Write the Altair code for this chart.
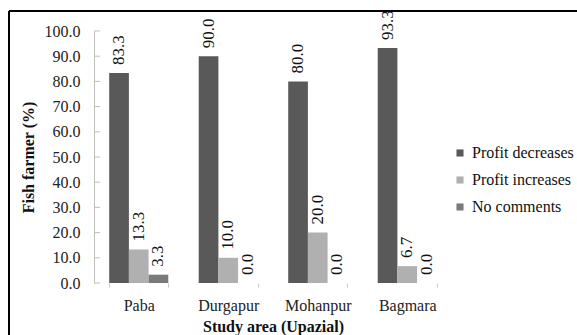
import altair as alt
import pandas as pd

areas = ["Paba", "Durgapur", "Mohanpur", "Bagmara"]
series = ["Profit decreases", "Profit increases", "No comments"]
profit_decreases = [83.3, 90.0, 80.0, 93.3]
profit_increases = [13.3, 10.0, 20.0, 6.7]
no_comments = [3.3, 0.0, 0.0, 0.0]
colors = ["#595959", "#b0b0b0", "#7a7a7a"]
y_ticks = [0, 10, 20, 30, 40, 50, 60, 70, 80, 90, 100]

rows = []
for vals, name in zip([profit_decreases, profit_increases, no_comments], series):
    for area, v in zip(areas, vals):
        rows.append({"area": area, "series": name, "value": v, "label": f"{v:.1f}"})
df = pd.DataFrame(rows)
ticks_df = pd.DataFrame({"tick": y_ticks})

FONT = "Liberation Serif"

x = alt.X("area:N", sort=areas,
          scale=alt.Scale(paddingInner=0.34, paddingOuter=0.17),
          axis=alt.Axis(title="Study area (Upazial)", labelAngle=0, domain=False,
                        tickBand="extent", tickColor="#c8c8c8", tickSize=4,
                        labelPadding=10, titlePadding=5))
xoff = alt.XOffset("series:N", sort=series)
yscale = alt.Scale(domain=[0, 100])
y_axis = alt.Axis(title="Fish farmer (%)", values=y_ticks,
                  format=".1f", grid=False, domainColor="#bfbfbf",
                  ticks=False, tickSize=0, labelPadding=14,
                  titlePadding=8, labelOverlap=False)

bars = alt.Chart(df).mark_bar().encode(
    x=x, xOffset=xoff,
    y=alt.Y("value:Q", scale=yscale, axis=y_axis),
    color=alt.Color("series:N", sort=series,
                    scale=alt.Scale(domain=series, range=colors),
                    legend=alt.Legend(title=None, orient="none", legendX=358,
                                      legendY=114, symbolType="square",
                                      symbolSize=50, rowPadding=11,
                                      labelFontSize=16, labelFont=FONT,
                                      labelColor="#111", labelOffset=4,
                                      symbolStrokeWidth=0)),
)

# inward tick marks on the value axis
yticks = alt.Chart(ticks_df).mark_rule(color="#bfbfbf").encode(
    y=alt.Y("tick:Q", scale=yscale, axis=y_axis), x=alt.value(0), x2=alt.value(6))

labels = alt.Chart(df).mark_text(angle=270, align="left", baseline="middle",
                                 dx=8, font=FONT, fontSize=17, color="#111").encode(
    x=x, xOffset=xoff,
    y=alt.Y("value:Q", scale=yscale, axis=y_axis), text="label:N")

# outer frame around the whole figure
frame_left = alt.Chart(ticks_df).mark_rule(color="black", strokeWidth=2).encode(
    x=alt.value(-85), y=alt.value(-20), y2=alt.value(400))
frame_top = alt.Chart(ticks_df).mark_rule(color="black", strokeWidth=2).encode(
    x=alt.value(-85), x2=alt.value(600), y=alt.value(-20))

chart = alt.layer(bars, yticks, labels, frame_left, frame_top).properties(
    width=358, height=252,
    autosize=alt.AutoSizeParams(type="none"),
    padding={"left": 94, "top": 31, "right": 125, "bottom": 52},
    background="white",
).configure_view(stroke=None).configure_axis(
    labelFont=FONT, titleFont=FONT, labelFontSize=16, titleFontSize=16,
    titleFontWeight="bold", labelColor="#222", titleColor="#111",
)

chart.save("out.html", embed_options={"renderer": "svg", "actions": False})
